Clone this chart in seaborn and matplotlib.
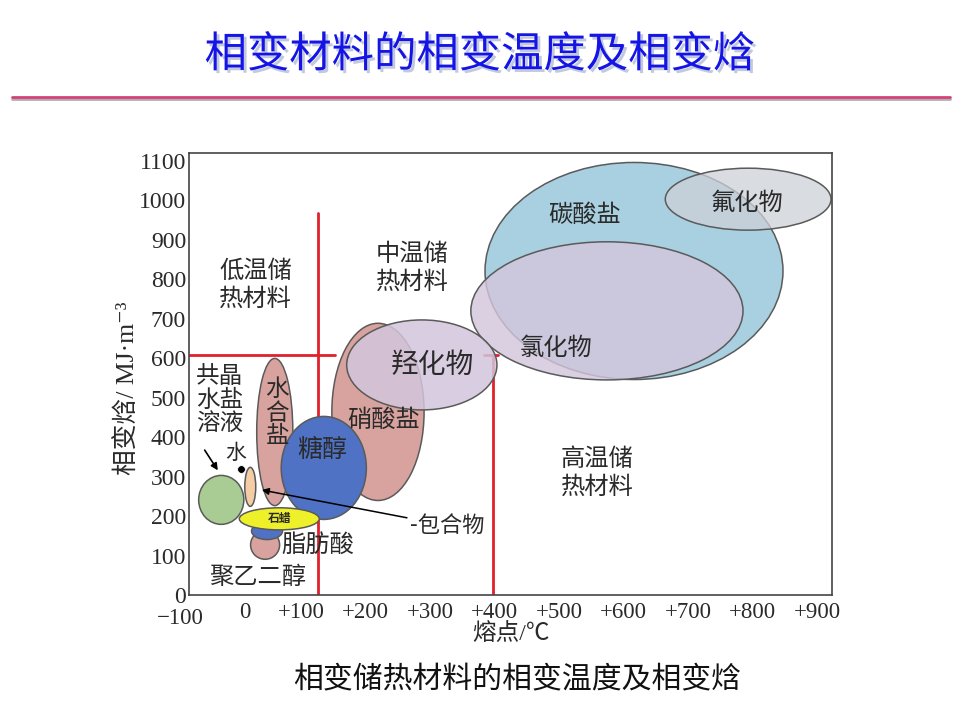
import matplotlib
matplotlib.use("Agg")
import matplotlib.pyplot as plt
import matplotlib.patheffects as pe
import matplotlib.transforms as mtrans
from matplotlib.patches import Ellipse
from matplotlib.lines import Line2D
import seaborn as sns
import pandas as pd

# ---------------- data (melting point in °C, enthalpy in MJ/m3) ----------------
materials = ['碳酸盐', '氯化物', '氟化物', '硝酸盐', '羟化物', '水合盐', '糖醇',
             '共晶水盐溶液', '包合物', '聚乙二醇', '脂肪酸', '石蜡']
melt_center = [603, 561, 780, 206, 274, 46, 122, -37, 8, 31, 34, 53]
melt_span = [462, 422, 257, 143, 233, 56, 132, 70, 17, 45, 48, 124]
enth_center = [821, 720, 1003, 464, 583, 413, 322, 241, 274, 127, 162, 193]
enth_span = [550, 350, 157, 449, 228, 373, 261, 124, 99, 73, 43, 56]
fill_colors = ['#a9d0e0', '#d3c5dc', '#cdd1d8', '#d8a39e', '#d3c6dc', '#d8a39e',
               '#4f72c4', '#a9cc94', '#f5cda5', '#d8a39e', '#4f72c4', '#eef02a']
fill_alpha = [1.0, 0.82, 0.75, 1.0, 0.85, 1.0, 1.0, 1.0, 1.0, 1.0, 1.0, 1.0]

water_melt = [-6]
water_enth = [319]

# region labels
region_labels = ['低温储\n热材料', '中温储\n热材料', '高温储\n热材料']
region_x = [16, 259, 546]
region_y = [786, 829, 309]

# material labels
label_text = ['碳酸盐', '氟化物', '氯化物', '羟化物', '硝酸盐', '水\n合\n盐', '糖醇',
              '共晶\n水盐\n溶液', '水', '脂肪酸', '聚乙二醇']
label_x = [527, 778, 482, 290, 214, 50, 119, -39, -14, 112, 20]
label_y = [963, 993, 626, 583, 443, 461, 367, 494, 360, 127, 46]
label_size = [17.5, 17.5, 17.5, 20, 17.5, 17, 18, 17, 15, 17.5, 17.5]

x_ticks = [0, 100, 200, 300, 400, 500, 600, 700, 800, 900]
x_ticklabels = ['0', '+100', '+200', '+300', '+400', '+500', '+600', '+700', '+800', '+900']
y_ticks = [0, 100, 200, 300, 400, 500, 600, 700, 800, 900, 1000, 1100]

# division lines
low_mid_t = 113
mid_high_t = 384
low_enth_limit = 608

# ---------------- style ----------------
sns.set_theme(style='white')
plt.rcParams['font.family'] = ['Liberation Serif', 'Noto Sans CJK SC', 'DejaVu Sans']
CJK = ['Noto Sans CJK SC', 'DejaVu Sans']
MIX = ['Liberation Serif', 'Noto Sans CJK SC', 'DejaVu Sans']
TXT = '#2a2a2a'

fig = plt.figure(figsize=(9.6, 7.2), dpi=100)
fig.patch.set_facecolor('white')
ax = fig.add_axes([189 / 960, 1 - 595 / 720, (832 - 189) / 960, (595 - 153) / 720])

# ellipses
for cx, w, cy, h, fc, a in zip(melt_center, melt_span, enth_center, enth_span, fill_colors, fill_alpha):
    ax.add_patch(Ellipse((cx, cy), w, h, facecolor=fc, alpha=a, edgecolor='none', zorder=2))
    ax.add_patch(Ellipse((cx, cy), w, h, facecolor='none', edgecolor='#5a5a5a', lw=1.1, zorder=2))

# water point
df_w = pd.DataFrame({'t': water_melt, 'h': water_enth})
sns.scatterplot(data=df_w, x='t', y='h', color='black', s=30, ax=ax, zorder=5, legend=False)

# red division lines
red = '#e0202a'
ax.plot([low_mid_t, low_mid_t], [0, 968], color=red, lw=2, zorder=1)
ax.plot([-87, 140], [low_enth_limit, low_enth_limit], color=red, lw=2, zorder=1)
ax.plot([mid_high_t, mid_high_t], [0, low_enth_limit], color=red, lw=2, zorder=1)
ax.plot([370, 392], [low_enth_limit, low_enth_limit], color=red, lw=2, zorder=1)

# texts
for t, x, y in zip(region_labels, region_x, region_y):
    ax.text(x, y, t, ha='center', va='center', fontsize=17.5, family=CJK, color=TXT,
            linespacing=1.1, zorder=6)
for t, x, y, s in zip(label_text, label_x, label_y, label_size):
    ax.text(x, y, t, ha='center', va='center', fontsize=s, family=CJK, color=TXT,
            linespacing=1.02, zorder=6)
ax.text(53, 193, '石蜡', ha='center', va='center', fontsize=8.5, family=CJK,
        fontweight='bold', color=TXT, zorder=7)

# arrows
ax.annotate('', xy=(-40, 310), xytext=(-65, 373),
            arrowprops=dict(arrowstyle='-|>', color='black', lw=1.2, mutation_scale=10), zorder=6)
ax.annotate('-包合物', xy=(26, 266), xytext=(256, 176), ha='left', va='center',
            fontsize=16, family=CJK, color=TXT,
            arrowprops=dict(arrowstyle='-|>', color='black', lw=1.1, mutation_scale=10,
                            shrinkA=0, shrinkB=0), zorder=6)

# axes
ax.set_xlim(-87, 910)
ax.set_ylim(0, 1120)
ax.set_xticks(x_ticks)
ax.set_xticklabels(x_ticklabels, family=MIX, fontsize=16.5)
ax.set_yticks(y_ticks)
ax.set_yticklabels([str(v) for v in y_ticks], family=MIX, fontsize=17)
ax.tick_params(direction='in', length=5, width=1, color='#444444', pad=2, labelcolor=TXT)
ax.tick_params(axis='x', pad=5)
shift = mtrans.ScaledTranslation(-6 / 72, 0, fig.dpi_scale_trans)
for lab in ax.get_xticklabels()[1:]:
    lab.set_transform(lab.get_transform() + shift)
for s in ax.spines.values():
    s.set_visible(True)
    s.set_color('#444444')
    s.set_linewidth(1.2)
ax.text(-100, -0.03, '−100', transform=ax.get_xaxis_transform(), ha='center', va='top',
        fontsize=16.5, family=MIX, color=TXT, clip_on=False)
ax.set_xlabel('熔点/℃', family=MIX, fontsize=17, color=TXT, labelpad=0)
ax.set_ylabel('相变焓/ MJ·m⁻³', family=MIX, fontsize=18.5, color=TXT)
ax.yaxis.set_label_coords(-0.076, 0.468)
ax.grid(False)

# slide title, rule and caption
fig.text(0.5, 1 - 55 / 720, '相变材料的相变温度及相变焓', ha='center', va='center',
         fontsize=30.5, family=CJK, color='#1414e6',
         path_effects=[pe.withSimplePatchShadow(offset=(2, -2), shadow_rgbFace='#9aa6c8', alpha=0.6)])
fig.add_artist(Line2D([12 / 960, 950 / 960], [1 - 99 / 720, 1 - 99 / 720], color='#b0b0b0', lw=2,
                      transform=fig.transFigure))
fig.add_artist(Line2D([12 / 960, 950 / 960], [1 - 97 / 720, 1 - 97 / 720], color='#d6417a', lw=2,
                      transform=fig.transFigure))
fig.text(517 / 960, 1 - 680 / 720, '相变储热材料的相变温度及相变焓', ha='center', va='center',
         fontsize=21.5, family=CJK, color='#111111')

fig.savefig('out.png', dpi=100, facecolor='white')
